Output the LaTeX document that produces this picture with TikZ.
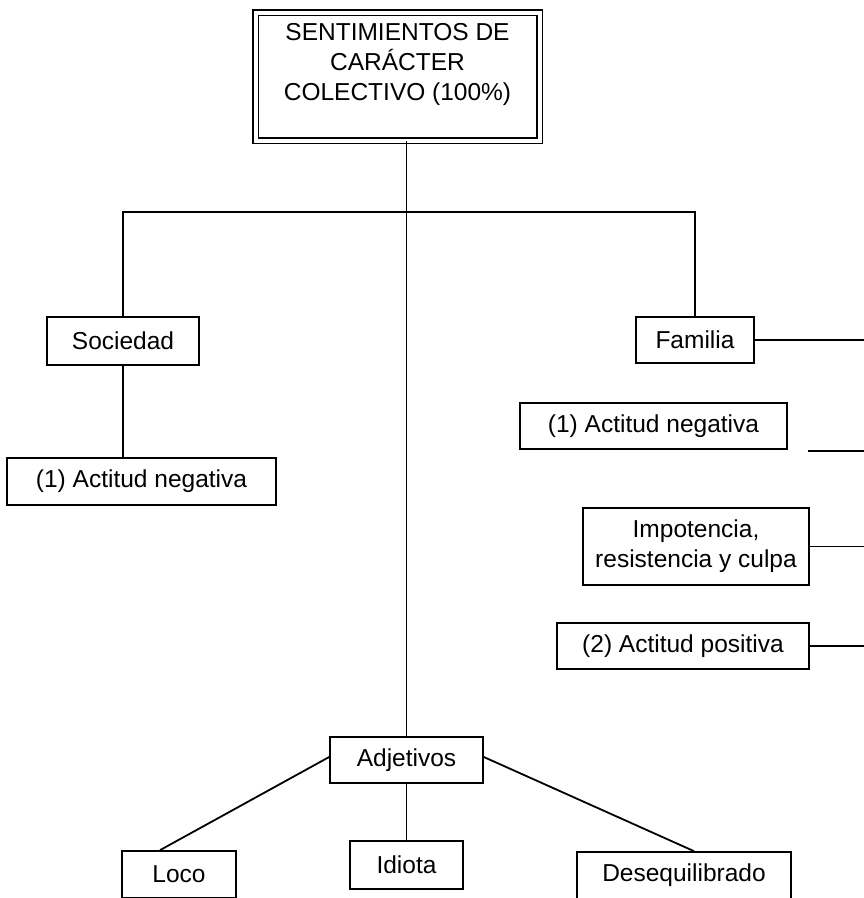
\documentclass[tikz,border=0pt]{standalone}
\usepackage{fontspec}
\setmainfont{Liberation Sans}
\begin{document}
\begin{tikzpicture}[x=1pt,y=-1pt,
  every node/.style={font=\fontsize{24.5}{30}\selectfont, inner sep=0pt},
  box/.style={draw, line width=1.7pt, minimum width=#1},
  link/.style={line width=1.8pt}
]
\clip (0,0) rectangle (864,898);
\fill[white] (0,0) rectangle (864,898);

% title frame (double border) and its text
\node[draw, line width=1.5pt, double, double distance=4pt,
      minimum width=284pt, minimum height=128pt] (title) at (397.5,76.5) {};
\node[align=center] (titletext) at (397.5,64) {SENTIMIENTOS DE\\CARÁCTER\\COLECTIVO (100\%)};

% first level
\node[box=152pt, minimum height=48pt] (soc) at (123,341) {Sociedad};
\node[box=118pt, minimum height=46pt] (fam) at (695,340) {Familia};

% branch under Sociedad
\node[box=269pt, minimum height=47pt] (socneg) at (141.5,481.5) {(1) Actitud negativa};

% branch under Familia
\node[box=267pt, minimum height=46pt] (famneg) at (653.5,426) {(1) Actitud negativa};
\node[box=226pt, minimum height=77pt, align=center] (impo) at (696,546.5) {Impotencia,\\resistencia y culpa};
\node[box=252pt, minimum height=46pt] (pos) at (683,646) {(2) Actitud positiva};

% adjectives
\node[box=153pt, minimum height=46pt] (adj) at (406.5,760) {Adjetivos};
\node[box=114pt, minimum height=47pt] (loco) at (179,874.5) {Loco};
\node[box=113pt, minimum height=48pt] (idiota) at (406.5,865) {Idiota};
\node[box=214pt, minimum height=47pt] (deseq) at (684,875.5) {Desequilibrado};

% right-hand edge of the sheet, where the side connectors run out
\coordinate (edgeR) at (864,0);
\coordinate (famR) at (fam.east -| edgeR);
\coordinate (negL) at (808,451);
\coordinate (negR) at (negL -| edgeR);
\coordinate (impoR) at (impo.east -| edgeR);
\coordinate (posR) at (pos.east -| edgeR);

% horizontal bar
\coordinate (barL) at (123,212);
\coordinate (barR) at (695,212);

% connectors
\draw[link] (title.south -| adj.north) -- (adj.north);
\draw[link] (soc.north) -- (barL) -- (barR) -- (fam.north);
\draw[link] (soc.south) -- (soc.south |- socneg.north);
\draw[link] (fam.east) -- (famR);
\draw[link] (negL) -- (negR);
\draw[link] (impo.east) -- (impoR);
\draw[link] (pos.east) -- (posR);
\draw[link] ([yshift=3pt]adj.west) -- ([xshift=-19pt]loco.north);
\draw[link] (adj.south) -- (idiota.north);
\draw[link] ([yshift=3pt]adj.east) -- ([xshift=10pt]deseq.north);
\end{tikzpicture}
\end{document}
